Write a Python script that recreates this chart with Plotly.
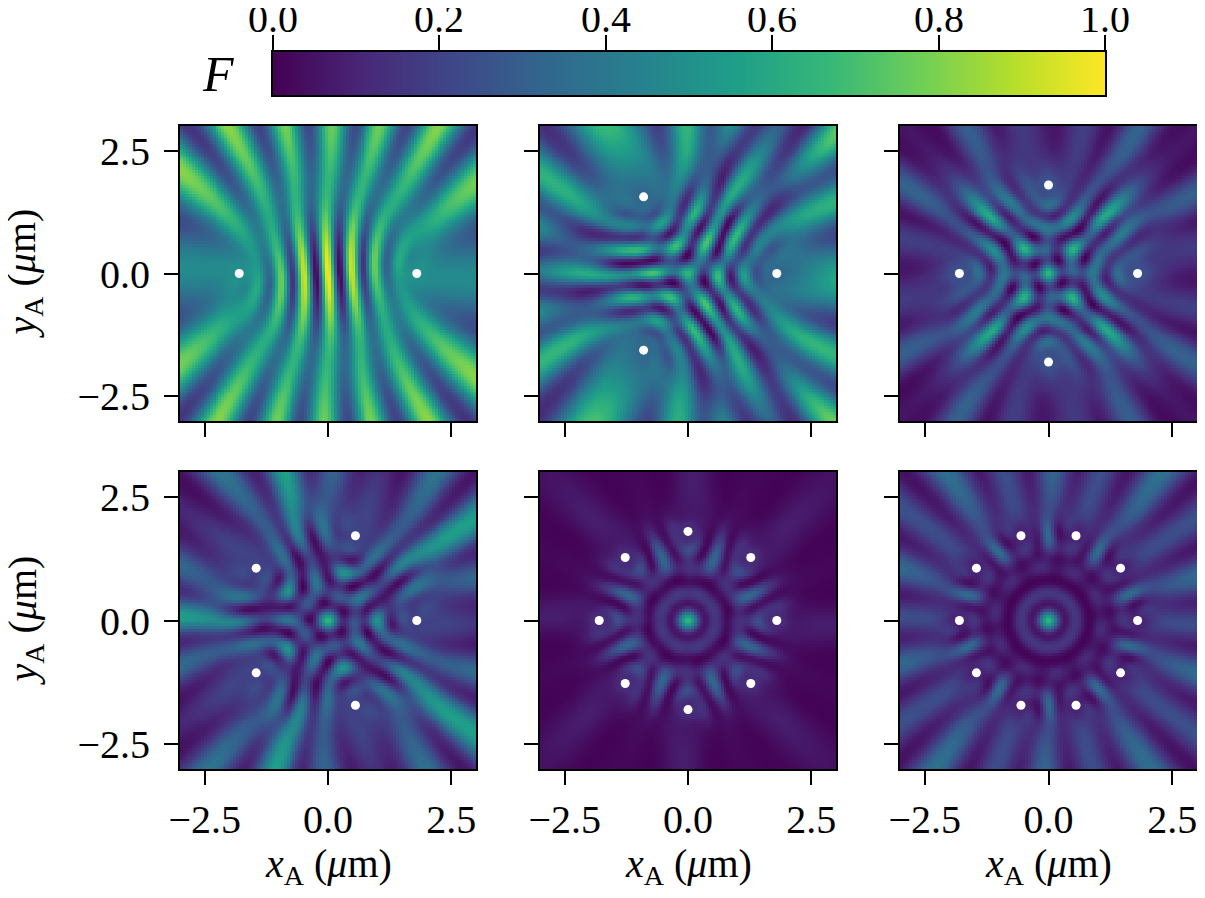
import numpy as np
import plotly.graph_objects as go
from plotly.subplots import make_subplots

# number of emitters on the ring in each panel (row by row)
emitter_counts = [2, 3, 4, 5, 8, 10]
ring_radius = 1.8      # um
wavelength = 0.96      # um
dipole_weights = (0.4, 0.4, 0.2)   # |d_x|^2, |d_y|^2 (circular, in plane), |d_z|^2
grid_points = 100
axis_range = [-3.0, 3.0]
tick_values = [-2.5, 0.0, 2.5]
cbar_ticks = [0.0, 0.2, 0.4, 0.6, 0.8, 1.0]

FONT = "Liberation Serif"
OFF = 8                      # page margin of the html body
W, H = 1205 - OFF, 898 - OFF


def ring_positions(n):
    """Emitters evenly spaced on the ring, first one on the +x axis"""
    phi = 2 * np.pi * np.arange(n) / n
    return ring_radius * np.cos(phi), ring_radius * np.sin(phi)


def fidelity_map(ex, ey, xs, ys):
    """Overlap of the dipole field at atom A with the symmetric ring mode"""
    k = 2 * np.pi / wavelength
    d = np.array([np.sqrt(dipole_weights[0]), 1j * np.sqrt(dipole_weights[1]),
                  np.sqrt(dipole_weights[2])])
    X, Y = np.meshgrid(xs, ys)
    tot = [np.zeros_like(X, dtype=complex) for _ in range(3)]
    norm = np.zeros_like(X)
    for x0, y0 in zip(ex, ey):
        r = np.hypot(X - x0, Y - y0)
        nx, ny = (X - x0) / r, (Y - y0) / r
        kr = k * r
        A = 1 + 1j / kr - 1 / kr ** 2
        B = -1 - 3j / kr + 3 / kr ** 2
        nd = nx * d[0] + ny * d[1]
        pref = np.exp(1j * kr) / r
        E = [pref * (A * d[0] + B * nx * nd),
             pref * (A * d[1] + B * ny * nd),
             pref * A * d[2]]
        for c in range(3):
            tot[c] += E[c]
            norm += np.abs(E[c]) ** 2
    num = sum(np.abs(t) ** 2 for t in tot)
    return num / (len(ex) * norm)


def px(x):
    return (x - OFF) / W


def py(y):
    return 1 - (y - OFF) / H


step = (axis_range[1] - axis_range[0]) / grid_points
xs = axis_range[0] + step * (np.arange(grid_points) + 0.5)
ys = xs.copy()

# panel boxes on screen, pixels
col_px = [(180, 476), (540, 836), (900, 1197)]
row_px = [(126, 421), (472, 769)]
cbar_px = (273, 1105, 52, 95)

fig = make_subplots(rows=2, cols=3)

for i, n in enumerate(emitter_counts):
    row, col = i // 3 + 1, i % 3 + 1
    ex, ey = ring_positions(n)
    F = fidelity_map(ex, ey, xs, ys)
    fig.add_trace(go.Heatmap(x=xs, y=ys, z=F, coloraxis="coloraxis",
                             zsmooth=False, hoverinfo="skip"),
                  row=row, col=col)
    fig.add_trace(go.Scatter(x=ex, y=ey, mode="markers",
                             marker=dict(color="white", size=9),
                             showlegend=False, hoverinfo="skip"),
                  row=row, col=col)

tick_font = dict(family=FONT, size=40, color="black")
axis_style = dict(range=axis_range, tickvals=tick_values, tickformat=".1f",
                  ticks="outside", ticklen=14, tickwidth=2, tickcolor="black",
                  showline=True, linewidth=2, linecolor="black", mirror=True,
                  showgrid=False, zeroline=False,
                  tickfont=tick_font, automargin=False)

for i in range(6):
    r, c = i // 3, i % 3
    fig.update_xaxes(axis_style, domain=[px(col_px[c][0]), px(col_px[c][1])],
                     showticklabels=(r == 1), ticklabelstandoff=0,
                     row=r + 1, col=c + 1)
    fig.update_yaxes(axis_style, domain=[py(row_px[r][1]), py(row_px[r][0])],
                     showticklabels=(c == 0), ticklabelstandoff=6,
                     row=r + 1, col=c + 1)

# colour bar drawn as its own strip with ticks on top
cbar_vals = np.linspace(0, 1, 400)
fig.add_trace(go.Heatmap(x=cbar_vals, y=[0], z=[cbar_vals], coloraxis="coloraxis",
                         zsmooth=False, hoverinfo="skip", xaxis="x7", yaxis="y7"))
fig.update_layout(
    xaxis7=dict(domain=[px(cbar_px[0]), px(cbar_px[1])], anchor="y7", side="top",
                range=[0, 1], tickvals=cbar_ticks, showticklabels=False,
                ticks="outside", ticklen=15, tickwidth=2, tickcolor="black",
                showline=True, linewidth=2, linecolor="black", mirror=True,
                showgrid=False, zeroline=False, automargin=False),
    yaxis7=dict(domain=[py(cbar_px[3]), py(cbar_px[2])], anchor="x7",
                range=[-0.5, 0.5], showticklabels=False, ticks="",
                showline=True, linewidth=2, linecolor="black", mirror=True,
                showgrid=False, zeroline=False, automargin=False),
)
for v in cbar_ticks:
    fig.add_annotation(text="%.1f" % v, x=v, y=py(19), xref="x7", yref="paper",
                       xanchor="center", yanchor="middle", showarrow=False,
                       font=tick_font)

title_font = dict(family=FONT, size=40, color="black")
for c in range(3):
    fig.add_annotation(text="<i>x</i><sub>A</sub> (<i>μ</i>m)",
                       x=px((col_px[c][0] + col_px[c][1]) / 2), y=py(866),
                       xref="paper", yref="paper", xanchor="center",
                       yanchor="middle", showarrow=False, font=title_font)
for r in range(2):
    fig.add_annotation(text="<i>y</i><sub>A</sub> (<i>μ</i>m)", textangle=-90,
                       x=px(24), y=py((row_px[r][0] + row_px[r][1]) / 2),
                       xref="paper", yref="paper", xanchor="center",
                       yanchor="middle", showarrow=False, font=title_font)
fig.add_annotation(text="<i>F</i>", x=px(218), y=py(74),
                   xref="paper", yref="paper", xanchor="center",
                   yanchor="middle", showarrow=False,
                   font=dict(family=FONT, size=50, color="black"))

fig.update_layout(
    width=W, height=H,
    margin=dict(l=0, r=0, t=0, b=0, autoexpand=False),
    plot_bgcolor="white", paper_bgcolor="white",
    showlegend=False,
    coloraxis=dict(colorscale="Viridis", cmin=0, cmax=1, showscale=False),
)

fig.write_html("out.html")
